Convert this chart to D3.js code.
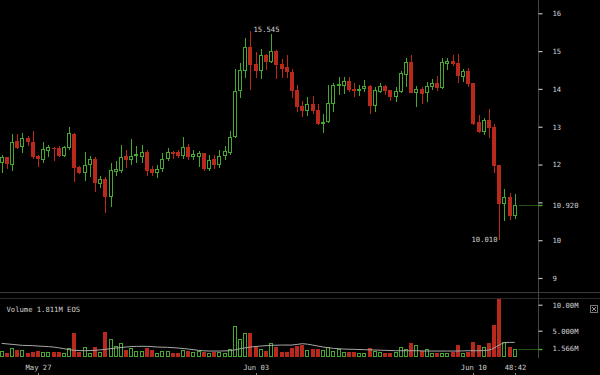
<!DOCTYPE html>
<html><head><meta charset="utf-8">
<script src="https://cdn.jsdelivr.net/npm/d3@7"></script>
<style>
html,body{margin:0;padding:0;background:#000;}
svg{display:block;}
text{font-family:"DejaVu Sans Mono",monospace;font-size:7.2px;fill:#d2d2d2;}
</style></head>
<body>
<svg id="c" width="600" height="375"></svg>
<script>
// ---- DATA (EOS, 4h candles) ----
const startTime = Date.UTC(2018, 4, 25, 20);   // first candle
const stepHours = 4;
const open  = [12.05,12.19,11.99,12.62,12.47,12.70,12.60,12.22,12.12,12.37,12.45,12.43,12.22,12.43,12.82,11.93,11.78,11.99,12.14,11.48,
               11.62,11.15,11.80,11.84,12.22,12.12,12.25,12.21,12.34,11.87,11.78,11.89,12.15,12.34,12.33,12.22,12.47,12.21,12.21,12.30,
               11.87,12.14,12.00,12.22,12.31,12.72,13.95,14.48,15.10,14.65,14.48,14.90,14.70,15.01,14.65,14.57,14.46,13.97,13.56,13.42,
               13.60,13.44,13.06,13.12,13.60,14.09,14.09,14.22,14.00,13.95,13.99,14.09,13.55,13.93,14.08,13.97,13.78,13.93,14.37,14.70,
               13.90,14.01,13.88,14.06,14.15,14.02,14.66,14.74,14.68,14.32,14.47,14.15,13.12,12.85,13.18,13.00,11.99,10.95,11.15,10.65];
const high  = [12.25,12.20,12.81,12.81,12.84,12.75,12.89,12.24,12.59,12.52,12.46,12.49,12.49,13.00,12.84,11.96,12.34,12.22,12.19,11.70,
               11.68,12.03,12.10,12.52,12.38,12.67,12.49,12.52,12.38,11.96,11.99,12.31,12.45,12.36,12.38,12.72,12.54,12.38,12.37,12.31,
               12.25,12.25,12.38,12.49,12.89,14.54,14.69,15.35,15.545,14.98,15.06,14.92,15.44,15.03,14.79,14.90,14.53,14.10,13.68,13.79,
               13.81,13.60,13.35,14.10,14.15,14.32,14.31,14.31,14.15,14.10,14.24,14.10,14.06,14.16,14.10,13.98,14.06,14.48,14.81,14.90,
               14.08,14.06,14.19,14.26,14.35,14.83,14.83,14.90,14.92,14.53,14.56,14.15,13.31,13.24,13.47,13.06,11.99,11.35,11.25,11.21];
const low   = [11.77,11.87,11.84,12.40,12.31,12.49,12.14,11.93,12.05,12.21,12.10,12.19,12.20,12.38,11.55,11.74,11.56,11.68,11.28,11.37,
               10.71,10.88,11.70,11.77,11.90,11.99,12.05,12.03,11.70,11.70,11.65,11.80,12.10,12.14,12.17,12.15,12.12,12.12,11.94,11.84,
               11.84,11.87,11.90,12.12,12.25,12.69,13.77,14.28,13.97,14.28,14.25,14.50,14.68,14.26,14.30,14.30,13.77,13.40,13.25,13.29,
               13.35,13.04,12.83,13.09,13.40,13.84,13.86,13.93,13.79,13.81,13.93,13.34,13.40,13.88,13.84,13.68,13.66,13.88,14.06,13.88,
               13.53,13.60,13.66,13.97,13.95,13.99,14.50,14.61,14.15,14.19,14.06,13.05,12.83,12.78,12.71,11.78,10.01,10.51,10.53,10.56];
const close = [12.21,12.01,12.60,12.45,12.69,12.59,12.21,12.14,12.40,12.47,12.40,12.22,12.46,12.84,11.90,11.78,12.00,12.14,11.50,11.62,
               11.13,11.85,11.87,12.21,12.12,12.22,12.27,12.33,11.84,11.77,11.89,12.16,12.33,12.27,12.22,12.47,12.21,12.27,12.30,11.87,
               12.12,11.99,12.22,12.35,12.74,13.95,14.50,15.10,14.63,14.48,14.90,14.70,15.01,14.63,14.53,14.46,13.95,13.53,13.42,13.60,
               13.42,13.06,13.13,13.62,14.10,14.12,14.22,13.97,13.95,14.01,14.08,13.55,13.97,14.08,13.95,13.78,13.94,14.41,14.70,13.88,
               14.01,13.86,14.07,14.17,14.02,14.70,14.74,14.65,14.35,14.48,14.13,13.07,12.85,13.18,12.96,11.97,10.96,11.15,10.65,10.92];
const volume = [1.15,0.77,1.6,1.28,1.28,0.64,0.96,1.15,0.96,0.96,0.96,0.96,0.64,1.6,4.5,0.96,1.8,0.77,1.8,0.96,
                4.8,3.5,2.1,2.7,1.28,1.6,1.15,1.15,1.7,1.28,0.77,1.15,1.15,0.64,0.64,1.28,1.15,0.96,1.15,0.96,
                0.77,0.96,0.96,0.77,1.4,5.9,3.5,4.6,4.6,1.9,1.4,1.15,2.6,1.8,0.96,0.96,1.6,2.05,2.2,1.28,
                1.4,1.4,1.28,1.9,1.15,1.4,0.96,0.96,0.96,0.77,0.77,1.6,1.15,0.96,0.64,0.77,0.96,1.8,1.4,2.6,
                2.2,1.15,1.4,0.64,0.77,0.77,0.77,0.96,2.2,0.77,0.96,2.9,2.2,1.8,2.6,6.1,11.2,2.9,1.811,1.566];
// volume moving-average line, read at these candle indices
const maIndex = [0,2,4,6,8,10,12,14,16,18,20,22,24,26,28,30,32,34,36,38,40,42,44,46,48,50,52,54,56,58,
                 60,62,64,66,68,70,72,74,76,78,80,82,84,86,88,90,92,94,96,97,98,99];
const maValue = [2.56,2.37,2.18,2.12,1.99,1.86,1.54,1.22,1.15,1.22,1.41,1.67,1.86,1.99,1.99,1.86,1.8,1.67,1.47,1.22,
                 1.09,1.09,1.15,1.54,1.86,2.05,2.18,2.24,2.24,2.5,2.24,1.86,1.6,1.47,1.41,1.35,1.28,1.22,1.15,1.15,
                 1.15,1.09,1.09,1.09,1.09,1.15,1.15,1.28,2.24,2.69,2.76,2.76];
const priceTicks = [9,10,11,12,13,14,15,16];
const volumeTicks = [5, 10];
const dateTicks = [Date.UTC(2018,4,27), Date.UTC(2018,5,3), Date.UTC(2018,5,10)];
const countdown = "48:42";
const volumeLegend = "Volume 1.811M EOS";

// ---- CHART ----
const svg = d3.select("#c");
const GREEN = "#46a82e", RED = "#b8281d";
const times = open.map((_, i) => new Date(startTime + i * stepHours * 3600e3));
const n = open.length;
const x = d3.scaleUtc().domain([times[0], times[n - 1]]).range([1.7, 514.8]);
const y = d3.scaleLinear().domain([9, 16]).range([278, 13.3]);
const yv = d3.scaleLinear().domain([0, 10]).range([356.7, 304.7]);
const AX = 538.5;

svg.append("rect").attr("width", 600).attr("height", 375).attr("fill", "#000");

// pane separators
svg.append("line").attr("x1", 0).attr("x2", 600).attr("y1", 292.5).attr("y2", 292.5).attr("stroke", "#3a3a3a");
svg.append("line").attr("x1", 0).attr("x2", 600).attr("y1", 298.5).attr("y2", 298.5).attr("stroke", "#2a2a2a");
// right axis line
svg.append("line").attr("x1", AX).attr("x2", AX).attr("y1", 0).attr("y2", 358).attr("stroke", "#444");

const cx = i => Math.round(x(times[i])) + 0.5;
const idx = d3.range(n);

// candles
const cg = svg.append("g");
idx.forEach(i => {
  const up = close[i] >= open[i];
  const col = up ? GREEN : RED;
  const c = cx(i);
  cg.append("line").attr("x1", c).attr("x2", c)
    .attr("y1", Math.round(y(high[i]))).attr("y2", Math.round(y(low[i])))
    .attr("stroke", col).attr("stroke-width", 1);
  const yt = Math.round(y(Math.max(open[i], close[i])));
  const yb = Math.round(y(Math.min(open[i], close[i])));
  if (up) {
    cg.append("rect").attr("x", c - 2).attr("y", yt + 0.5).attr("width", 3)
      .attr("height", Math.max(1, yb - yt - 1)).attr("fill", "#000").attr("stroke", col);
  } else {
    cg.append("rect").attr("x", c - 2.5).attr("y", yt).attr("width", 4)
      .attr("height", Math.max(1, yb - yt)).attr("fill", col);
  }
});

// volume bars
const vg = svg.append("g");
idx.forEach(i => {
  const up = close[i] >= open[i];
  const col = up ? GREEN : RED;
  const c = cx(i);
  const yt = Math.max(299, Math.round(yv(volume[i])));
  const yb = Math.round(yv(0));
  if (up) {
    vg.append("rect").attr("x", c - 2).attr("y", yt + 0.5).attr("width", 3)
      .attr("height", Math.max(1, yb - yt - 1)).attr("fill", "#000").attr("stroke", col);
  } else {
    vg.append("rect").attr("x", c - 2.5).attr("y", yt).attr("width", 4)
      .attr("height", yb - yt).attr("fill", col);
  }
});
// volume MA line
svg.append("path")
  .datum(maIndex.map((k, j) => [x(times[k]), yv(maValue[j])]))
  .attr("d", d3.line().curve(d3.curveMonotoneX))
  .attr("fill", "none").attr("stroke", "#a8a8a8").attr("stroke-width", 1);

// price axis
const pAxis = svg.append("g").attr("transform", `translate(${AX},0)`)
  .call(d3.axisRight(y).tickValues(priceTicks).tickSize(4).tickPadding(10).tickFormat(d3.format("d")));
pAxis.select(".domain").remove();
pAxis.selectAll(".tick line").attr("stroke", "#bbb").attr("stroke-width", 1.2);
pAxis.selectAll(".tick text").attr("fill", "#d2d2d2").style("font-family", "DejaVu Sans Mono")
  .style("font-size", "7.2px").text(d => d === 11 ? "" : d);

// last price marker
const lastC = close[n - 1];
svg.append("line").attr("x1", cx(n - 1) + 4).attr("x2", AX).attr("y1", Math.round(y(lastC)) + 0.5).attr("y2", Math.round(y(lastC)) + 0.5)
  .attr("stroke", GREEN).attr("stroke-dasharray", "1,1");
svg.append("line").attr("x1", AX).attr("x2", AX + 4).attr("y1", Math.round(y(lastC)) + 0.5).attr("y2", Math.round(y(lastC)) + 0.5)
  .attr("stroke", GREEN).attr("stroke-width", 1.4);
svg.append("text").attr("x", AX + 14).attr("y", y(lastC)).attr("dy", "0.35em").text(d3.format(".3f")(lastC));

// high / low labels
const hiI = d3.maxIndex(high), loI = d3.minIndex(low);
svg.append("text").attr("x", cx(hiI) + 3).attr("y", y(high[hiI]) - 1).attr("dy", "0.35em").text(d3.format(".3f")(high[hiI]));
svg.append("text").attr("x", cx(loI) - 2).attr("y", y(low[loI])).attr("dy", "0.35em").attr("text-anchor", "end").text(d3.format(".3f")(low[loI]));

// volume axis
const vAxis = svg.append("g").attr("transform", `translate(${AX},0)`)
  .call(d3.axisRight(yv).tickValues(volumeTicks).tickSize(4).tickPadding(10)
    .tickFormat(d => d >= 10 ? d3.format(".2f")(d) + "M" : d3.format(".3f")(d) + "M"));
vAxis.select(".domain").remove();
vAxis.selectAll(".tick line").attr("stroke", "#bbb").attr("stroke-width", 1.2);
vAxis.selectAll(".tick text").attr("fill", "#d2d2d2").style("font-family", "DejaVu Sans Mono").style("font-size", "7.2px");
const lastV = volume[n - 1];
svg.append("line").attr("x1", cx(n - 1) + 3).attr("x2", AX).attr("y1", Math.round(yv(lastV)) + 0.5).attr("y2", Math.round(yv(lastV)) + 0.5)
  .attr("stroke", GREEN).attr("stroke-dasharray", "1,1");
svg.append("line").attr("x1", AX).attr("x2", AX + 4).attr("y1", Math.round(yv(lastV)) + 0.5).attr("y2", Math.round(yv(lastV)) + 0.5)
  .attr("stroke", GREEN).attr("stroke-width", 1.4);
svg.append("text").attr("x", AX + 14).attr("y", yv(lastV)).attr("dy", "0.35em").text(d3.format(".3f")(lastV) + "M");

// legend + close box
svg.append("text").attr("x", 6.5).attr("y", 309.5).attr("dy", "0.35em").text(volumeLegend);
const bx = svg.append("g").attr("transform", "translate(590.5,305.5)");
bx.append("rect").attr("width", 7).attr("height", 7).attr("fill", "none").attr("stroke", "#777");
bx.append("path").attr("d", "M1.5,1.5L5.5,5.5M5.5,1.5L1.5,5.5").attr("stroke", "#999");

// time axis
const tAxis = svg.append("g").attr("transform", "translate(0,359)")
  .call(d3.axisBottom(x).tickValues(dateTicks.map(d => new Date(d))).tickSize(0).tickPadding(6)
    .tickFormat(d3.utcFormat("%b %d")));
tAxis.select(".domain").remove();
tAxis.selectAll(".tick text").attr("fill", "#d2d2d2").style("font-family", "DejaVu Sans Mono").style("font-size", "7.2px");
dateTicks.forEach(d => {
  const xx = Math.round(x(new Date(d))) + 0.5;
  svg.append("line").attr("x1", xx).attr("x2", xx).attr("y1", 373).attr("y2", 375).attr("stroke", "#888");
});
svg.append("text").attr("x", cx(n - 1)).attr("y", 367.5).attr("dy", "0.35em").attr("text-anchor", "middle").text(countdown);
svg.append("line").attr("x1", cx(n - 1)).attr("x2", cx(n - 1)).attr("y1", 373).attr("y2", 375).attr("stroke", "#888");
</script>
</body></html>
